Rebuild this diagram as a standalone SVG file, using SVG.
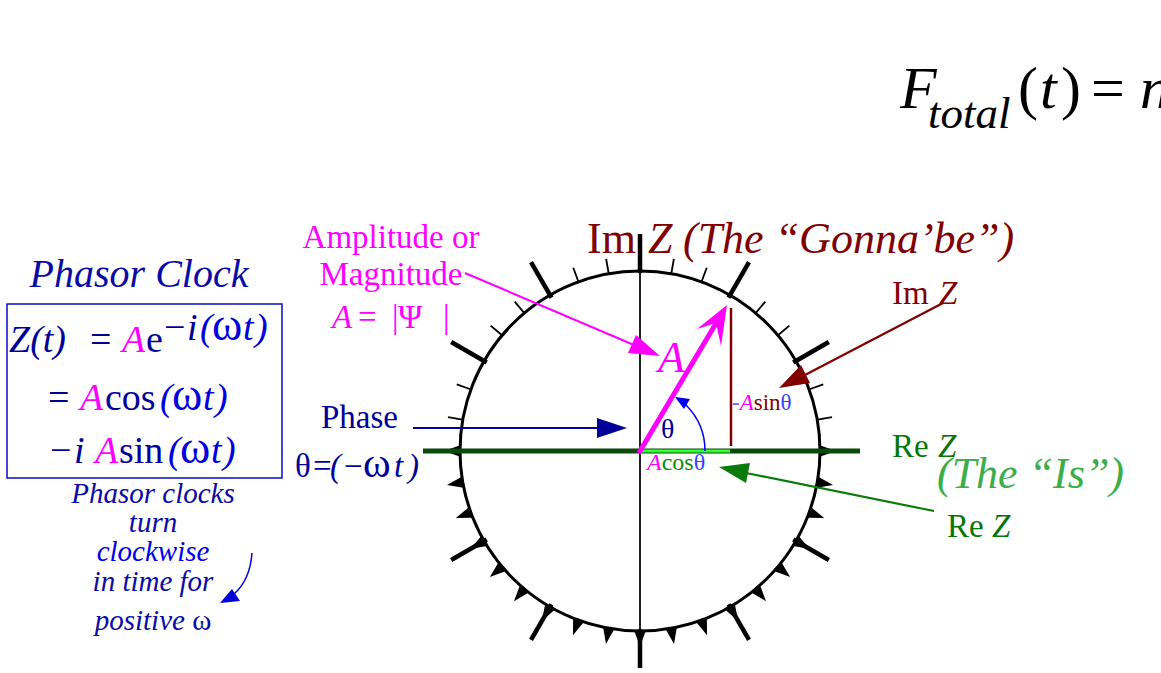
<svg xmlns="http://www.w3.org/2000/svg" xmlns:xlink="http://www.w3.org/1999/xlink" width="1161" height="673" viewBox="0 0 1161 673">
<style>
text{font-family:"Liberation Serif","Times New Roman",serif}
.it{font-style:italic}
.navy{fill:#000099}
.blue{fill:#0000dd}
.mag{fill:#ff00ff}
.red{fill:#800000}
.grn{fill:#087508}
.om{font-size:46px}
.minor{stroke:#000;stroke-width:1.8}
.major{stroke:#000;stroke-width:4.5}
</style>
<defs>
<line id="tkMinor" class="minor" x1="819" y1="451" x2="835" y2="451"/>
<line id="tkMajor" class="major" x1="817" y1="451" x2="858" y2="451"/>
<polygon id="tri" points="819,445 819,457 836,451" fill="#000"/>
</defs>
<rect width="1161" height="673" fill="#fff"/>

<g id="formula">
<text x="900" y="108" font-size="60" class="it">F</text>
<text x="928" y="128" font-size="45" class="it">total</text>
<text y="108" font-size="60"><tspan x="1018">(</tspan><tspan x="1040" class="it">t</tspan><tspan x="1061">)</tspan><tspan x="1091">=</tspan><tspan x="1140" class="it">n</tspan></text>
</g>

<g id="phasor-title">
<text x="139" y="287" font-size="40" text-anchor="middle" class="it" fill="#0a0aa5">Phasor Clock</text>
</g>

<g id="equation-box">
<rect x="7" y="304" width="275" height="174" fill="none" stroke="#1a1acc" stroke-width="1.6"/>
<text y="352" font-size="38" class="navy"><tspan x="9" class="it">Z(t)</tspan><tspan x="90">=</tspan><tspan x="122" class="it mag">A</tspan><tspan x="146">e</tspan></text>
<text y="340" font-size="38"><tspan x="164" class="navy">−</tspan><tspan x="187" class="it navy">i</tspan><tspan x="200" class="it blue">(</tspan><tspan x="212" class="blue om">ω</tspan><tspan x="243" class="it blue">t</tspan><tspan x="255" class="it blue">)</tspan></text>
<text y="410" font-size="38"><tspan x="48" class="navy">=</tspan><tspan x="80" class="it mag">A</tspan><tspan x="105" class="navy">cos</tspan><tspan x="160" class="it blue">(</tspan><tspan x="172" class="blue om">ω</tspan><tspan x="203" class="it blue">t</tspan><tspan x="215" class="it blue">)</tspan></text>
<text y="463" font-size="38"><tspan x="50" class="navy">−</tspan><tspan x="74" class="it navy">i</tspan><tspan x="95" class="it mag">A</tspan><tspan x="119" class="navy">sin</tspan><tspan x="168" class="it blue">(</tspan><tspan x="180" class="blue om">ω</tspan><tspan x="211" class="it blue">t</tspan><tspan x="223" class="it blue">)</tspan></text>
</g>

<g id="clockwise-note" font-size="29" text-anchor="middle">
<text x="153" y="503" class="it" fill="#0a0aa5">Phasor clocks</text>
<text x="153" y="532" class="it" fill="#0a0aa5">turn</text>
<text x="153" y="561" class="it" fill="#0000ee">clockwise</text>
<text x="153" y="591" class="it" fill="#0a0aa5">in time for</text>
<text x="153" y="630" fill="#0a0aa5"><tspan class="it">positive </tspan>ω</text>
<path d="M252,553 Q250,580 234,594" fill="none" stroke="#0000dd" stroke-width="1.5"/>
<polygon points="220,603 232,589 240,601" fill="#0000dd"/>
</g>

<g id="clock-face">
<circle cx="640" cy="451" r="180" fill="none" stroke="#000" stroke-width="3"/>
<use xlink:href="#tkMinor" transform="rotate(-10 640 451)"/>
<use xlink:href="#tkMinor" transform="rotate(-20 640 451)"/>
<use xlink:href="#tkMajor" transform="rotate(-30 640 451)"/>
<use xlink:href="#tkMinor" transform="rotate(-40 640 451)"/>
<use xlink:href="#tkMinor" transform="rotate(-50 640 451)"/>
<use xlink:href="#tkMajor" transform="rotate(-60 640 451)"/>
<use xlink:href="#tkMinor" transform="rotate(-70 640 451)"/>
<use xlink:href="#tkMinor" transform="rotate(-80 640 451)"/>
<use xlink:href="#tkMinor" transform="rotate(-100 640 451)"/>
<use xlink:href="#tkMinor" transform="rotate(-110 640 451)"/>
<use xlink:href="#tkMajor" transform="rotate(-120 640 451)"/>
<use xlink:href="#tkMinor" transform="rotate(-130 640 451)"/>
<use xlink:href="#tkMinor" transform="rotate(-140 640 451)"/>
<use xlink:href="#tkMajor" transform="rotate(-150 640 451)"/>
<use xlink:href="#tkMinor" transform="rotate(-160 640 451)"/>
<use xlink:href="#tkMinor" transform="rotate(-170 640 451)"/>
<use xlink:href="#tri" transform="rotate(0 640 451)"/>
<use xlink:href="#tri" transform="rotate(10 640 451)"/>
<use xlink:href="#tri" transform="rotate(20 640 451)"/>
<use xlink:href="#tri" transform="rotate(30 640 451)"/>
<use xlink:href="#tri" transform="rotate(40 640 451)"/>
<use xlink:href="#tri" transform="rotate(50 640 451)"/>
<use xlink:href="#tri" transform="rotate(60 640 451)"/>
<use xlink:href="#tri" transform="rotate(70 640 451)"/>
<use xlink:href="#tri" transform="rotate(80 640 451)"/>
<use xlink:href="#tri" transform="rotate(90 640 451)"/>
<use xlink:href="#tri" transform="rotate(100 640 451)"/>
<use xlink:href="#tri" transform="rotate(110 640 451)"/>
<use xlink:href="#tri" transform="rotate(120 640 451)"/>
<use xlink:href="#tri" transform="rotate(130 640 451)"/>
<use xlink:href="#tri" transform="rotate(140 640 451)"/>
<use xlink:href="#tri" transform="rotate(150 640 451)"/>
<use xlink:href="#tri" transform="rotate(160 640 451)"/>
<use xlink:href="#tri" transform="rotate(170 640 451)"/>
<use xlink:href="#tri" transform="rotate(180 640 451)"/>
<use xlink:href="#tkMajor" transform="rotate(30 640 451)"/>
<use xlink:href="#tkMajor" transform="rotate(60 640 451)"/>
<use xlink:href="#tkMajor" transform="rotate(120 640 451)"/>
<use xlink:href="#tkMajor" transform="rotate(150 640 451)"/>
</g>

<g id="axes">
<line x1="640" y1="240" x2="640" y2="668" stroke="#222" stroke-width="2"/>
<line x1="640" y1="234" x2="640" y2="273" stroke="#000" stroke-width="4.5"/>
<line x1="640" y1="629" x2="640" y2="668" stroke="#000" stroke-width="4.5"/>
<line x1="423" y1="451" x2="860" y2="451" stroke="#0a4a0a" stroke-width="5"/>
<line x1="642" y1="451" x2="730" y2="451" stroke="#33ff33" stroke-width="3"/>
</g>

<g id="connectors">
<line x1="731" y1="308" x2="731" y2="446" stroke="#800000" stroke-width="2.5"/>
<line x1="640" y1="451" x2="718" y2="320" stroke="#ff00ff" stroke-width="5" stroke-linecap="round"/>
<polygon points="727,305 721,346 716,323 697,329" fill="#ff00ff"/>
<path d="M705,451 A65,65 0 0 0 686,405" fill="none" stroke="#0000ee" stroke-width="1.5"/>
<polygon points="675,397 690,399 684,409" fill="#0000ee"/>
<line x1="465" y1="273" x2="634" y2="345" stroke="#ff00ff" stroke-width="2"/>
<polygon points="660,356 636,335 628,353" fill="#ff00ff"/>
<line x1="413" y1="428" x2="600" y2="428" stroke="#000099" stroke-width="2.2"/>
<polygon points="627,428 597,418 597,438" fill="#000099"/>
<line x1="943" y1="303" x2="803" y2="376" stroke="#800000" stroke-width="2.2"/>
<polygon points="779,388 810,383 801,365" fill="#800000"/>
<line x1="934" y1="511" x2="746" y2="473" stroke="#0a7a0a" stroke-width="2.2"/>
<polygon points="719,467 746,483 750,463" fill="#0a7a0a"/>
</g>

<g id="phasor-labels">
<text x="658" y="372" font-size="44" class="it mag">A</text>
<text x="661" y="438" font-size="28" class="navy">θ</text>
<text y="410" font-size="23"><tspan x="732" fill="#7755ff">-</tspan><tspan class="it mag">A</tspan><tspan class="red">sin</tspan><tspan fill="#3344ff">θ</tspan></text>
<text y="470" font-size="24"><tspan x="647" class="it mag">A</tspan><tspan fill="#0a8a0a">cos</tspan><tspan fill="#3344ff">θ</tspan></text>
</g>

<g id="amplitude-label" class="mag" font-size="33" text-anchor="middle">
<text x="391" y="248">Amplitude or</text>
<text x="391" y="285">Magnitude</text>
<text y="328" text-anchor="start"><tspan x="332" class="it">A</tspan><tspan x="358">=</tspan><tspan x="392">|</tspan><tspan x="398">Ψ</tspan><tspan x="443">|</tspan></text>
</g>

<g id="phase-label" class="navy">
<text x="321" y="428" font-size="33">Phase</text>
<text y="477" font-size="33"><tspan x="295">θ</tspan><tspan x="313">=</tspan><tspan x="330" class="it">(</tspan><tspan x="344">−</tspan><tspan x="363" font-size="42">ω</tspan><tspan x="394" class="it">t</tspan><tspan x="408" class="it">)</tspan></text>
</g>

<g id="im-axis-label" class="red">
<text y="253" font-size="44"><tspan x="587">Im</tspan><tspan x="648" class="it">Z</tspan><tspan x="683" class="it">(The “Gonna’be”)</tspan></text>
</g>

<g id="im-z-label" class="red">
<text y="304" font-size="33"><tspan x="892">Im</tspan><tspan x="939" class="it">Z</tspan></text>
</g>

<g id="re-axis-label">
<text y="457" font-size="33" class="grn"><tspan x="892">Re</tspan><tspan x="938" class="it">Z</tspan></text>
<text x="937" y="488" font-size="44" class="it" fill="#3aae48">(The “Is”)</text>
</g>

<g id="re-z-label">
<text y="537" font-size="33" class="grn"><tspan x="947">Re</tspan><tspan x="992" class="it">Z</tspan></text>
</g>
</svg>
